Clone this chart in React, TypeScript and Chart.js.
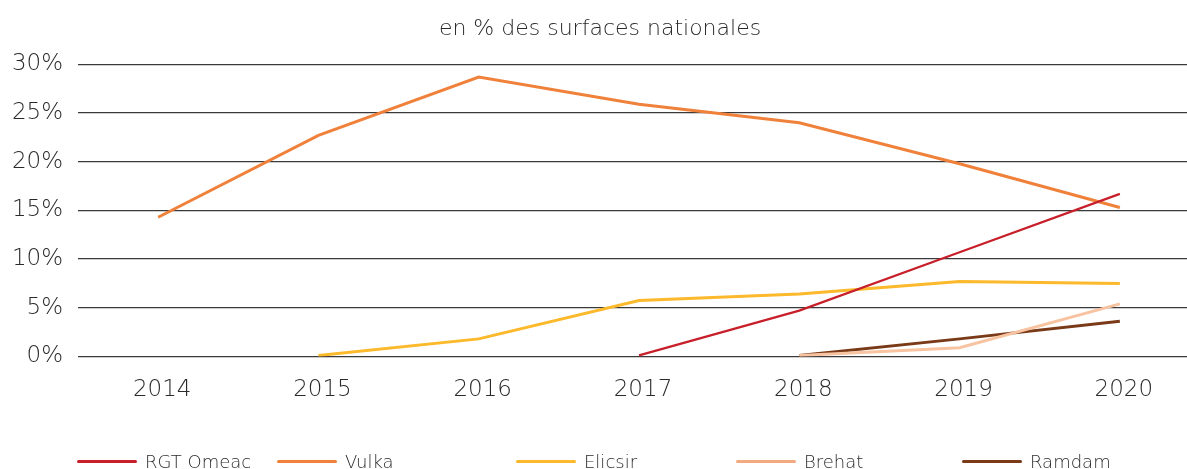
import React, { useEffect, useRef } from "react";
import { Chart, registerables } from "chart.js";

Chart.register(...registerables);

const years = ["2014", "2015", "2016", "2017", "2018", "2019", "2020"];
const rgtOmeac = [null, null, null, 0.1, 4.7, 10.7, 16.7];
const vulka = [14.3, 22.7, 28.7, 25.9, 24.0, 19.8, 15.3];
const elicsir = [null, 0.1, 1.8, 5.75, 6.4, 7.7, 7.5];
const brehat = [null, null, null, null, 0.1, 0.9, 5.4];
const ramdam = [null, null, null, null, 0.1, 1.8, 3.6];
const yTicks = [0, 5, 10, 15, 20, 25, 30];
const titleText = "en % des surfaces nationales";

const seriesNames = ["RGT Omeac", "Vulka", "Elicsir", "Brehat", "Ramdam"];
const seriesData = [rgtOmeac, vulka, elicsir, brehat, ramdam];
const seriesColors = ["#C8202A", "#F0813A", "#FBB92B", "#F8C3A0", "#7A3A18"];
const legendColors = ["#C8202A", "#F0813A", "#FBB92B", "#F4AA80", "#7A3A18"];
const seriesWidths = [2.2, 3, 3, 3, 3];
const legendLeft = [77, 277, 516, 736, 962];

const FONT = "'DejaVu Sans', sans-serif";

export default function App() {
  const ref = useRef<HTMLCanvasElement | null>(null);
  useEffect(() => {
    if (!ref.current) return;
    const chart = new Chart(ref.current, {
      type: "line",
      data: {
        labels: years,
        datasets: seriesNames.map((n, i) => ({
          label: n,
          data: seriesData[i],
          borderColor: seriesColors[i],
          backgroundColor: seriesColors[i],
          borderWidth: seriesWidths[i],
          pointRadius: 0,
          tension: 0,
          fill: false,
          spanGaps: false,
        })),
      },
      options: {
        responsive: false,
        animation: false,
        layout: { padding: { left: 0, right: 0, top: 0, bottom: 45 } },
        plugins: {
          legend: { display: false },
          tooltip: { enabled: false },
          title: {
            display: true,
            text: titleText,
            color: "#2a2a2a",
            font: { family: FONT, size: 22, weight: "200" as any },
            padding: { top: 16, bottom: 22 },
          },
        },
        scales: {
          x: {
            offset: true,
            grid: { display: false, drawTicks: false },
            border: { display: false },
            ticks: {
              color: "#2a2a2a",
              padding: 20,
              labelOffset: 4,
              font: { family: FONT, size: 23, weight: "200" as any },
              maxRotation: 0,
            },
          },
          y: {
            min: 0,
            max: 30,
            afterFit: (s: any) => {
              s.width = 78;
            },
            afterBuildTicks: (s: any) => {
              s.ticks = yTicks.map((v) => ({ value: v }));
            },
            grid: { color: "#3a3a3a", lineWidth: 1.2, drawTicks: false },
            border: { display: false },
            ticks: {
              color: "#2a2a2a",
              padding: 15,
              font: { family: FONT, size: 23, weight: "200" as any },
              callback: (v: any) => v + "%",
            },
          },
        },
      },
    });
    return () => chart.destroy();
  }, []);

  return (
    <div
      style={{
        position: "fixed",
        left: 0,
        top: 0,
        width: 1187,
        height: 469,
        overflow: "hidden",
        background: "#fff",
      }}
    >
      <canvas
        ref={ref}
        width={1200}
        height={469}
        style={{ position: "absolute", left: 0, top: 0, width: 1200, height: 469 }}
      />
      {seriesNames.map((n, i) => (
        <div
          key={n}
          style={{
            position: "absolute",
            left: legendLeft[i],
            top: 450,
            height: 22,
            display: "flex",
            alignItems: "center",
            fontFamily: FONT,
            fontSize: 18,
            fontWeight: 200,
            color: "#2a2a2a",
            whiteSpace: "nowrap",
          }}
        >
          <span
            style={{
              display: "inline-block",
              width: 60,
              height: 3,
              borderRadius: 2,
              background: legendColors[i],
              marginRight: 8,
            }}
          />
          {n}
        </div>
      ))}
    </div>
  );
}
